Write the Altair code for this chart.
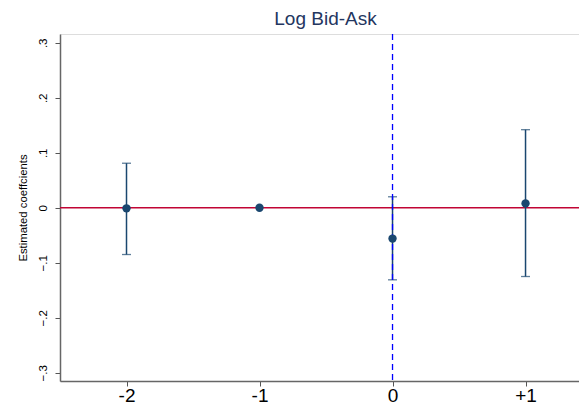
import altair as alt
import pandas as pd

periods = [-2, -1, 0, 1]
coef = [-0.001, 0.0, -0.056, 0.008]
ci_low = [-0.085, None, -0.131, -0.125]
ci_high = [0.081, None, 0.020, 0.142]

y_ticks = [-0.3, -0.2, -0.1, 0.0, 0.1, 0.2, 0.3]
x_ticks = [-2, -1, 0, 1]

df = pd.DataFrame({"period": periods, "coef": coef, "lo": ci_low, "hi": ci_high})
df_ci = df.dropna()

NAVY = "#1a476f"
FONT = "Liberation Sans"

xscale = alt.Scale(domain=[-2.5, 1.402], nice=False, zero=False)
yscale = alt.Scale(domain=[-0.315, 0.316], nice=False, zero=False)

xaxis = alt.Axis(
    values=x_ticks, title=None, grid=False,
    labelExpr="datum.value > 0 ? '+' + datum.value : '' + datum.value",
    labelFontSize=19, labelColor="#000000", labelFont=FONT,
    tickSize=5, tickColor="#555555", domainColor="#666666", domainWidth=1.5,
    labelPadding=0,
)
yaxis = alt.Axis(
    values=y_ticks, title="Estimated coeffcients", grid=False,
    labelExpr="datum.value == 0 ? '0' : replace(format(datum.value, '.1f'), '0.', '.')",
    labelAngle=270, labelAlign="center", labelBaseline="bottom",
    labelFontSize=11.5, labelColor="#000000", labelFont=FONT, labelPadding=7,
    titleFontSize=11.3, titleFont=FONT, titleFontWeight="normal", titleColor="#000000",
    titlePadding=9,
    tickSize=5, tickColor="#555555", domainColor="#666666", domainWidth=1.5,
)

base = alt.Chart(df)

hline = alt.Chart(pd.DataFrame({"y": [0.0]})).mark_rule(color="#c10534", strokeWidth=1.3).encode(
    y=alt.Y("y:Q", scale=yscale, axis=yaxis)
)

bars = alt.Chart(df_ci).mark_rule(color=NAVY, strokeWidth=1.5).encode(
    x=alt.X("period:Q", scale=xscale, axis=xaxis),
    y=alt.Y("lo:Q", scale=yscale),
    y2="hi:Q",
)
cap_lo = alt.Chart(df_ci).mark_tick(color=NAVY, orient="horizontal", size=9, thickness=1.3).encode(
    x=alt.X("period:Q", scale=xscale), y=alt.Y("lo:Q", scale=yscale)
)
cap_hi = alt.Chart(df_ci).mark_tick(color=NAVY, orient="horizontal", size=9, thickness=1.3).encode(
    x=alt.X("period:Q", scale=xscale), y=alt.Y("hi:Q", scale=yscale)
)

vline = alt.Chart(pd.DataFrame({"x": [0]})).mark_rule(
    color="#0000ff", strokeDash=[6, 4], strokeWidth=1.3
).encode(x=alt.X("x:Q", scale=xscale))

points = base.mark_circle(color=NAVY, size=70, opacity=1).encode(
    x=alt.X("period:Q", scale=xscale), y=alt.Y("coef:Q", scale=yscale)
)

chart = alt.layer(hline, bars, cap_lo, cap_hi, vline, points).properties(
    width=519, height=347,
    title=alt.TitleParams("Log Bid-Ask", fontSize=19, font=FONT, fontWeight="normal",
                          color="#24365f", anchor="middle", offset=4, dx=6),
    autosize=alt.AutoSizeParams(type="none"),
    padding={"left": 52, "top": 26, "right": 0, "bottom": 24},
).configure_view(stroke=None).configure(background="white")

chart.save("out.html", embed_options={"renderer": "svg", "actions": False})
